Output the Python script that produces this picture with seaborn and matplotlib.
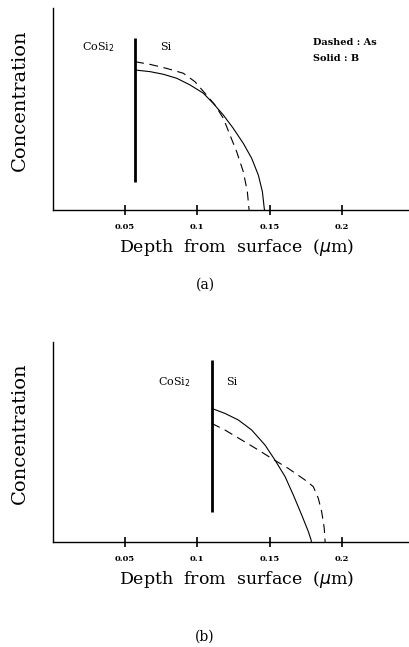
import matplotlib
matplotlib.use("Agg")
import matplotlib.pyplot as plt
import seaborn as sns

sns.set_style("ticks")
plt.rcParams['font.family'] = ['DejaVu Serif']
plt.rcParams['text.color'] = 'black'
plt.rcParams['axes.labelcolor'] = 'black'
plt.rcParams['xtick.color'] = 'black'
plt.rcParams['xtick.bottom'] = True
plt.rcParams['xtick.direction'] = 'inout'
plt.rcParams['xtick.major.size'] = 7
plt.rcParams['xtick.major.width'] = 1.2

# Panel (a)
a_interface = 0.057
a_B_x = [0.0570, 0.0673, 0.0765, 0.0858, 0.0950, 0.1042, 0.1110, 0.1180, 0.1249,
         0.1318, 0.1376, 0.1422, 0.1450, 0.1463, 0.1465]
a_B_y = [0.693, 0.685, 0.672, 0.652, 0.619, 0.578, 0.528, 0.470, 0.404,
         0.330, 0.256, 0.173, 0.091, 0.008, 0.0]
a_As_x = [0.0570, 0.0673, 0.0788, 0.0903, 0.0984, 0.1053, 0.1122, 0.1180, 0.1226,
          0.1272, 0.1318, 0.1346, 0.1357, 0.1358]
a_As_y = [0.734, 0.721, 0.701, 0.677, 0.635, 0.578, 0.520, 0.454, 0.371,
          0.289, 0.190, 0.091, 0.008, 0.0]

# Panel (b)
b_interface = 0.11
b_B_x = [0.1100, 0.1191, 0.1284, 0.1376, 0.1468, 0.1537, 0.1607, 0.1664, 0.1722,
         0.1768, 0.1787, 0.1789]
b_B_y = [0.668, 0.643, 0.610, 0.560, 0.485, 0.410, 0.327, 0.235, 0.135,
         0.052, 0.010, 0.0]
b_As_x = [0.1100, 0.1191, 0.1307, 0.1422, 0.1514, 0.1629, 0.1745, 0.1802, 0.1837,
          0.1860, 0.1878, 0.1883, 0.1884]
b_As_y = [0.593, 0.560, 0.510, 0.460, 0.418, 0.368, 0.310, 0.277, 0.218,
          0.152, 0.068, 0.010, 0.0]

xticks = [0.05, 0.1, 0.15, 0.2]
xtick_labels = ["0.05", "0.1", "0.15", "0.2"]

W, H = 409, 647
fig = plt.figure(figsize=(W / 100, H / 100), dpi=100)

def make_ax(bottom_px, height_px):
    left = 52.7 / W
    return fig.add_axes([left, bottom_px / H, 1.0 - left, height_px / H])

ax_a = make_ax(H - 210, 202)
ax_b = make_ax(H - 542, 200)

panels = [
    (ax_a, a_interface, 0.139, 0.85, a_B_x, a_B_y, a_As_x, a_As_y, (0.0313, 0.807), (0.0784, 0.807)),
    (ax_b, b_interface, 0.15, 0.91, b_B_x, b_B_y, b_As_x, b_As_y, (0.084, 0.80), (0.124, 0.80)),
]

for ax, xi, y0, y1, bx, by, ax_, ay, cos_pos, si_pos in panels:
    sns.lineplot(x=bx, y=by, ax=ax, color="black", lw=0.8, sort=False, estimator=None)
    sns.lineplot(x=ax_, y=ay, ax=ax, color="black", lw=0.8, sort=False, estimator=None,
                 linestyle=(0, (8, 5)))
    ax.plot([xi, xi], [y0, y1], color="black", lw=2.0, solid_capstyle="butt")
    ax.text(cos_pos[0], cos_pos[1], "CoSi$_2$", ha="center", va="center", fontsize=8)
    ax.text(si_pos[0], si_pos[1], "Si", ha="center", va="center", fontsize=8)
    sns.despine(ax=ax)
    for s in ["left", "bottom"]:
        ax.spines[s].set_color("black")
        ax.spines[s].set_linewidth(1.0)
    ax.set_xlim(0, 0.2464)
    ax.set_ylim(0, 1)
    ax.set_xticks(xticks)
    ax.set_xticklabels(xtick_labels, fontsize=6, fontweight="bold")
    ax.tick_params(axis="x", which="major", bottom=True, direction="inout",
                   length=7, width=1.2, color="black", pad=6)
    ax.tick_params(axis="y", left=False, labelleft=False)
    ax.set_xlabel("Depth  from  surface  ($\\mu$m)", fontsize=12.5)
    ax.xaxis.set_label_coords(0.517, -0.188)
    ax.xaxis.label.set_va("center")
    ax.set_ylabel("Concentration", fontsize=14)
    ax.yaxis.set_label_coords(-0.092, 0.545)
    ax.yaxis.label.set_va("center")
    ax.set_facecolor("white")

ax_a.text(0.18, 0.827, "Dashed : As", ha="left", va="center", fontsize=7, fontweight="bold")
ax_a.text(0.18, 0.752, "Solid : B", ha="left", va="center", fontsize=7, fontweight="bold")

fig.text(205 / W, 1 - 285 / H, "(a)", ha="center", va="center", fontsize=10)
fig.text(205 / W, 1 - 637 / H, "(b)", ha="center", va="center", fontsize=10)

fig.savefig("out.png", dpi=100, facecolor="white")
